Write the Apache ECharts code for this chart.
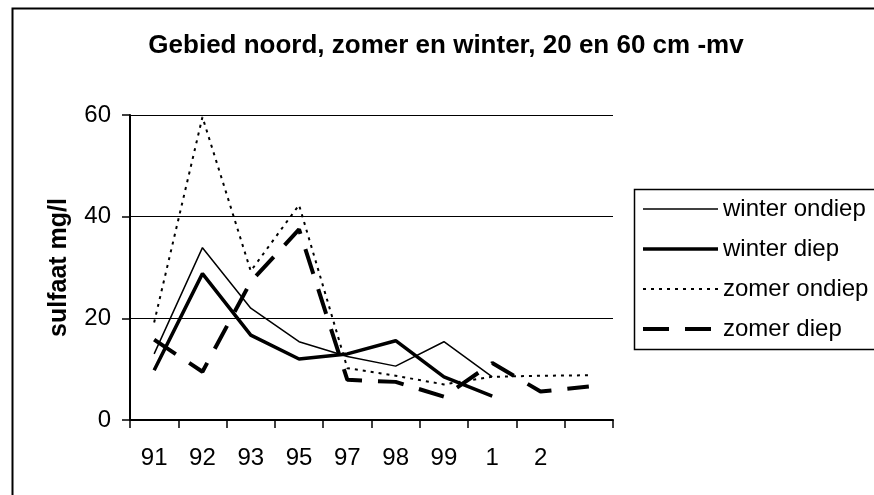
<!DOCTYPE html>
<html>
<head>
<meta charset="utf-8">
<script src="https://cdn.jsdelivr.net/npm/echarts@6/dist/echarts.min.js"></script>
<style>
html,body{margin:0;padding:0;background:#fff;}
#chart{width:874px;height:495px;}
</style>
</head>
<body>
<div id="chart"></div>
<script>
var categories = ['91', '92', '93', '95', '97', '98', '99', '1', '2', ''];
var winterOndiep = [13.0, 33.9, 22.0, 15.4, 12.5, 10.6, 15.4, 8.5];
var winterDiep = [9.8, 28.8, 16.7, 12.0, 13.0, 15.6, 8.5, 4.7];
var zomerOndiep = [19.2, 59.6, 29.3, 42.3, 10.2, 8.7, 7.0, 8.5, 8.7, 8.8];
var zomerDiep = [15.8, 9.5, 27.2, 37.5, 7.9, 7.5, 4.6, 11.2, 5.6, 6.6];
var seriesNames = ['winter ondiep', 'winter diep', 'zomer ondiep', 'zomer diep'];
var yTicks = {min: 0, max: 60, interval: 20};

var FONT = "'Liberation Sans', Arial, sans-serif";
var chart = echarts.init(document.getElementById('chart'), null, {renderer: 'canvas'});

var styles = [
  {width: 1.5, type: 'solid'},
  {width: 3.5, type: 'solid'},
  {width: 2, type: [3, 5]},
  {width: 4, type: [26, 16]}
];
var seriesData = [winterOndiep, winterDiep, zomerOndiep, zomerDiep];

var series = seriesNames.map(function (name, i) {
  return {
    name: name, type: 'line', data: seriesData[i], symbol: 'none', showSymbol: false,
    lineStyle: {color: '#000', width: styles[i].width, type: styles[i].type, cap: 'butt'},
    itemStyle: {color: '#000'},
    emphasis: {disabled: true}, z: 3
  };
});

var legendData = seriesNames.map(function (name, i) {
  return {
    name: name,
    itemStyle: {opacity: 0},
    lineStyle: {color: '#000', width: styles[i].width, type: styles[i].type, cap: 'butt'}
  };
});

chart.setOption({
  animation: false,
  backgroundColor: '#fff',
  title: {
    text: 'Gebied noord, zomer en winter, 20 en 60 cm -mv',
    left: 441, top: 28, textAlign: 'center',
    textStyle: {fontFamily: FONT, fontWeight: 'bold', fontSize: 26, color: '#000'}
  },
  graphic: [{
    type: 'rect', left: 10, top: 6, z: 100,
    shape: {x: 0, y: 0, width: 900, height: 520},
    style: {fill: null, stroke: '#000', lineWidth: 2}
  }, {
    type: 'rect', left: 632, top: 187, z: 100,
    shape: {x: 0, y: 0, width: 300, height: 160},
    style: {fill: null, stroke: '#000', lineWidth: 1.5}
  }],
  legend: {
    orient: 'vertical', left: 632, top: 187,
    itemWidth: 75, itemHeight: 24, itemGap: 16,
    padding: [10, 4, 6, 9],
    borderWidth: 0,
    data: legendData,
    itemStyle: {opacity: 0},
    textStyle: {fontFamily: FONT, fontSize: 24, color: '#000', lineHeight: 24},
    selectedMode: false
  },
  grid: {left: 130, top: 115, width: 483, height: 305, containLabel: false},
  xAxis: {
    type: 'category', data: categories, boundaryGap: true,
    axisLine: {lineStyle: {color: '#000', width: 2}},
    axisTick: {show: true, length: 8, lineStyle: {color: '#000', width: 1.5}, alignWithLabel: false},
    axisLabel: {fontFamily: FONT, fontSize: 24, color: '#000', margin: 26, interval: 0},
    splitLine: {show: false}
  },
  yAxis: {
    type: 'value', min: yTicks.min, max: yTicks.max, interval: yTicks.interval,
    name: 'sulfaat mg/l', nameLocation: 'middle', nameGap: 58, nameRotate: 90,
    nameTextStyle: {fontFamily: FONT, fontWeight: 'bold', fontSize: 25, color: '#000'},
    axisLine: {show: true, lineStyle: {color: '#000', width: 2}},
    axisTick: {show: true, length: 8, lineStyle: {color: '#000', width: 1.5}},
    axisLabel: {fontFamily: FONT, fontSize: 24, color: '#000', margin: 19},
    splitLine: {show: true, lineStyle: {color: '#000', width: 1.2}}
  },
  series: series
});
</script>
</body>
</html>
